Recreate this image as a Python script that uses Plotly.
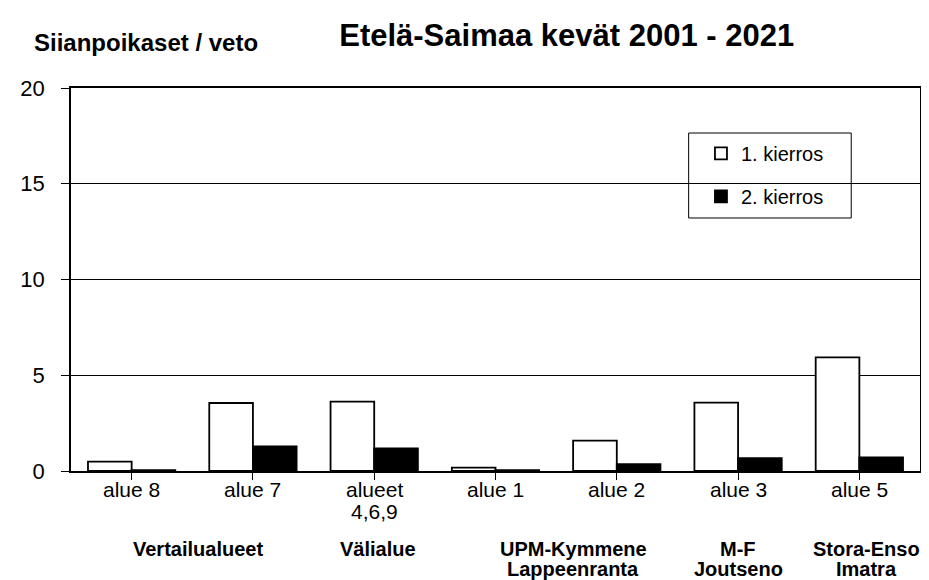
import plotly.graph_objects as go

categories = ["alue 8", "alue 7", "alueet<br>4,6,9", "alue 1", "alue 2", "alue 3", "alue 5"]
kierros1 = [0.49, 3.55, 3.62, 0.18, 1.59, 3.57, 5.93]
kierros2 = [0.05, 1.28, 1.18, 0.05, 0.36, 0.67, 0.71]
group_labels = ["Vertailualueet", "Välialue", "UPM-Kymmene<br>Lappeenranta", "M-F<br>Joutseno", "Stora-Enso<br>Imatra"]
y_ticks = [0, 5, 10, 15, 20]

# layout-only placement of the group captions (category units)
GROUP_X = [0.55, 2.03, 3.64, 5.0, 6.06]

FONT = "Liberation Sans, Arial, sans-serif"
xs = list(range(len(categories)))

fig = go.Figure()
fig.add_trace(go.Bar(x=xs, y=kierros1, name="1. kierros", legendgroup="a",
                     marker=dict(color="white", line=dict(color="black", width=1.8))))
fig.add_trace(go.Bar(x=xs, y=kierros2, name="2. kierros", legendgroup="b",
                     marker=dict(color="black", line=dict(color="black", width=1.8))))

# category labels under the axis (tight line spacing as in the original)
for cx, cat in zip(xs, categories):
    for i, line in enumerate(cat.split("<br>")):
        fig.add_annotation(x=cx, y=0, xref="x", yref="paper", text=line,
                           showarrow=False, yanchor="middle", yshift=-18 - 22 * i,
                           font=dict(family=FONT, size=21, color="black"))

# group captions
for gx, gl in zip(GROUP_X, group_labels):
    for i, line in enumerate(gl.split("<br>")):
        fig.add_annotation(x=gx, y=0, xref="x", yref="paper", text="<b>" + line + "</b>",
                           showarrow=False, yanchor="middle", yshift=-78 - 20 * i,
                           font=dict(family=FONT, size=20, color="black"))

fig.add_annotation(x=0, y=1, xref="paper", yref="paper", xanchor="left", yanchor="middle",
                   xshift=-39, yshift=46, text="<b>Siianpoikaset / veto</b>", showarrow=False,
                   font=dict(family=FONT, size=24, color="black"))

# legend frame
fig.add_shape(type="rect", xref="paper", yref="paper",
              x0=0.7275, x1=0.919, y0=0.6606, y1=0.8825,
              line=dict(color="black", width=1), fillcolor="white", layer="between")

fig.update_layout(
    width=929, height=580,
    margin=dict(l=57, r=17, t=80, b=117),
    paper_bgcolor="white", plot_bgcolor="white",
    barmode="group", bargap=0.28, bargroupgap=0,
    title=dict(text="<b>Etelä-Saimaa kevät 2001 - 2021</b>", x=558.7 / 929, xanchor="center",
               y=1 - 27 / 580, yanchor="middle", font=dict(family=FONT, size=31, color="black")),
    font=dict(family=FONT, size=22, color="black"),
    showlegend=True,
    legend=dict(x=0.742, y=0.880, xanchor="left", yanchor="top",
                bgcolor="rgba(0,0,0,0)", borderwidth=0,
                font=dict(family=FONT, size=20, color="black"),
                itemwidth=30, tracegroupgap=14),
    xaxis=dict(tickmode="array", tickvals=xs, ticktext=categories, showticklabels=False,
               range=[-0.5, len(categories) - 0.5],
               ticks="outside", tickson="boundaries", ticklen=7, tickcolor="black", tickwidth=1,
               showline=True, linecolor="black", linewidth=1.5, mirror=True,
               showgrid=False),
    yaxis=dict(range=[0, 20], tickvals=y_ticks, ticks="outside", ticklen=8, tickcolor="black",
               showline=True, linecolor="black", linewidth=1.5, mirror=True,
               showgrid=True, gridcolor="black", gridwidth=1, zeroline=False,
               ticklabelstandoff=12,
               tickfont=dict(family=FONT, size=22)),
)

fig.write_html("out.html")
